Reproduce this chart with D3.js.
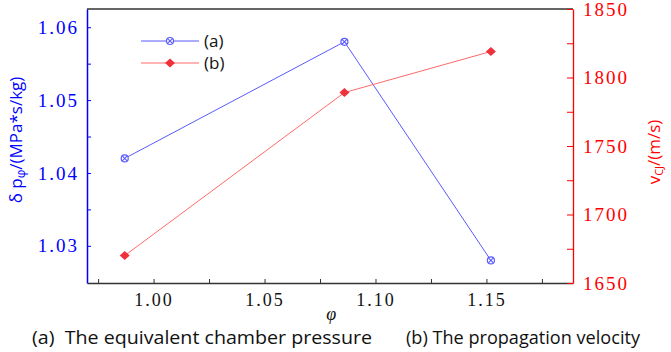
<!DOCTYPE html>
<html>
<head>
<meta charset="utf-8">
<script src="https://cdn.jsdelivr.net/npm/d3@7"></script>
<style>
  body { margin: 0; background: #fff; }
  svg { display: block; }
</style>
</head>
<body>
<div id="chart"></div>
<script>
// values
const phi = [0.987, 1.086, 1.152];
const pressure = [1.042, 1.058, 1.028];      // (a) δpφ, left axis
const velocity = [1670, 1789, 1819];         // (b) vCJ, right axis
const xTicks = [1.00, 1.05, 1.10, 1.15];
const yLeftTicks = [1.03, 1.04, 1.05, 1.06];
const yRightTicks = [1650, 1700, 1750, 1800, 1850];
const legendLabels = ["(a)", "(b)"];
const captions = ["(a)  The equivalent chamber pressure", "(b) The propagation velocity"];

const W = 671, H = 352;
const margin = { left: 87, right: 98, top: 9, bottom: 69 };
const width = W - margin.left - margin.right;
const height = H - margin.top - margin.bottom;

const BLUE = "#0000ff", RED = "#ff0000";
const BLUE_L = "#5a5aff", RED_L = "#ff6a6a";
const SERIF = "'Liberation Serif', 'DejaVu Serif', 'Times New Roman', serif";

const svg = d3.select("#chart").append("svg")
    .attr("width", W).attr("height", H);
const g = svg.append("g")
    .attr("transform", "translate(" + margin.left + "," + margin.top + ")");

const x = d3.scaleLinear().domain([0.97, 1.189]).range([0, width]);
const yL = d3.scaleLinear().domain([1.0249, 1.0625]).range([height, 0]);
const yR = d3.scaleLinear().domain([1650, 1850]).range([height, 0]);

function serifTicks(axisG, size, color) {
    axisG.attr("font-family", null).attr("font-size", null);
    axisG.selectAll(".tick text")
        .attr("fill", color)
        .style("font-family", SERIF)
        .style("font-size", size + "px")
        .style("letter-spacing", "2px");
}

// top border
g.append("line").attr("x1", 0).attr("x2", width).attr("y1", 0).attr("y2", 0)
    .attr("stroke", "#333").attr("stroke-width", 1.3);

// bottom axis (ticks inside)
const xAxis = g.append("g").attr("transform", "translate(0," + height + ")")
    .call(d3.axisBottom(x).tickValues(xTicks).tickFormat(d3.format(".2f"))
        .tickSizeInner(-4).tickSizeOuter(0).tickPadding(10));
xAxis.select(".domain").attr("stroke", "#333").attr("stroke-width", 1.5);
xAxis.selectAll(".tick line").attr("stroke", "#333");
serifTicks(xAxis, 18, "#111");
g.append("g").attr("transform", "translate(0," + height + ")")
    .call(d3.axisBottom(x).tickValues(d3.range(0.975, 1.19, 0.05)).tickFormat("")
        .tickSizeInner(-4).tickSizeOuter(0))
    .call(s => s.select(".domain").remove())
    .selectAll("line").attr("stroke", "#333");

// left axis
const yAxisL = g.append("g")
    .call(d3.axisLeft(yL).tickValues(yLeftTicks).tickFormat(d3.format(".2f"))
        .tickSizeInner(-4).tickSizeOuter(0).tickPadding(8));
yAxisL.select(".domain").attr("stroke", BLUE).attr("stroke-width", 1.5);
yAxisL.selectAll(".tick line").attr("stroke", BLUE);
serifTicks(yAxisL, 19, BLUE);
g.append("g")
    .call(d3.axisLeft(yL).tickValues([1.035, 1.045, 1.055]).tickFormat("")
        .tickSizeInner(-4).tickSizeOuter(0))
    .call(s => s.select(".domain").remove())
    .selectAll("line").attr("stroke", BLUE);

// right axis
const yAxisR = g.append("g").attr("transform", "translate(" + width + ",0)")
    .call(d3.axisRight(yR).tickValues(yRightTicks).tickFormat(d3.format("d"))
        .tickSizeInner(-6).tickSizeOuter(0).tickPadding(10));
yAxisR.select(".domain").attr("stroke", RED).attr("stroke-width", 1.3);
yAxisR.selectAll(".tick line").attr("stroke", RED);
serifTicks(yAxisR, 19, RED);
g.append("g").attr("transform", "translate(" + width + ",0)")
    .call(d3.axisRight(yR).tickValues([1675, 1725, 1775, 1825]).tickFormat("")
        .tickSizeInner(-6).tickSizeOuter(0))
    .call(s => s.select(".domain").remove())
    .selectAll("line").attr("stroke", RED);

// series
const ptsA = phi.map((p, i) => [p, pressure[i]]);
const ptsB = phi.map((p, i) => [p, velocity[i]]);

g.append("path").datum(ptsA)
    .attr("fill", "none").attr("stroke", BLUE_L).attr("stroke-width", 1)
    .attr("d", d3.line().x(d => x(d[0])).y(d => yL(d[1])));
g.append("path").datum(ptsB)
    .attr("fill", "none").attr("stroke", RED_L).attr("stroke-width", 1)
    .attr("d", d3.line().x(d => x(d[0])).y(d => yR(d[1])));

function crossCircle(sel, cx, cy) {
    const r = 3.5;
    sel.append("circle").attr("cx", cx).attr("cy", cy).attr("r", r)
        .attr("fill", "#fff").attr("stroke", BLUE_L).attr("stroke-width", 1.2);
    const k = r * 0.7;
    sel.append("path")
        .attr("d", `M${cx - k},${cy - k}L${cx + k},${cy + k}M${cx - k},${cy + k}L${cx + k},${cy - k}`)
        .attr("stroke", BLUE_L).attr("stroke-width", 1.1);
}
function diamond(sel, cx, cy) {
    sel.append("path")
        .attr("d", `M${cx},${cy - 4.5}L${cx + 5},${cy}L${cx},${cy + 4.5}L${cx - 5},${cy}Z`)
        .attr("fill", "#f0303a");
}

ptsA.forEach(d => crossCircle(g, x(d[0]), yL(d[1])));
ptsB.forEach(d => diamond(g, x(d[0]), yR(d[1])));

// legend
const leg = svg.append("g");
[0, 1].forEach(i => {
    const ly = 41 + i * 22;
    leg.append("line").attr("x1", 141).attr("x2", 199).attr("y1", ly).attr("y2", ly)
        .attr("stroke", i === 0 ? BLUE_L : RED_L).attr("stroke-width", 1);
    if (i === 0) crossCircle(leg, 170, ly); else diamond(leg, 170, ly);
    leg.append("text").attr("x", 204).attr("y", ly + 6)
        .style("font-family", "'Open Sans', sans-serif").style("font-size", "17px")
        .attr("fill", "#111").text(legendLabels[i]);
});

// axis titles
const tL = svg.append("text")
    .attr("transform", "translate(22,140) rotate(-90)")
    .attr("text-anchor", "middle").attr("fill", BLUE)
    .style("font-family", "'Open Sans', sans-serif").style("font-size", "17px");
tL.append("tspan").text("δ p");
tL.append("tspan").attr("font-size", "12px").attr("dy", 3).text("φ");
tL.append("tspan").attr("dy", -3).text("/(MPa*s/kg)");

const tR = svg.append("text")
    .attr("transform", "translate(660,152) rotate(-90)")
    .attr("text-anchor", "middle").attr("fill", RED)
    .style("font-family", "'Open Sans', sans-serif").style("font-size", "17px");
tR.append("tspan").text("v");
tR.append("tspan").attr("font-size", "11px").attr("dy", 3).text("CJ");
tR.append("tspan").attr("dy", -3).text("/(m/s)");

svg.append("text").attr("x", margin.left + x(1.08)).attr("y", 320)
    .attr("text-anchor", "middle").attr("fill", "#111")
    .style("font-family", SERIF).style("font-style", "italic")
    .style("font-size", "18px").text("φ");

// captions
svg.append("text").attr("x", 32).attr("y", 344).attr("fill", "#111")
    .attr("textLength", 340).attr("lengthAdjust", "spacingAndGlyphs")
    .style("font-family", "'Open Sans', sans-serif").style("font-size", "18px")
    .style("white-space", "pre").text(captions[0]);
svg.append("text").attr("x", 406).attr("y", 344).attr("fill", "#111")
    .attr("textLength", 234).attr("lengthAdjust", "spacingAndGlyphs")
    .style("font-family", "'Open Sans', sans-serif").style("font-size", "18px")
    .text(captions[1]);
</script>
</body>
</html>
